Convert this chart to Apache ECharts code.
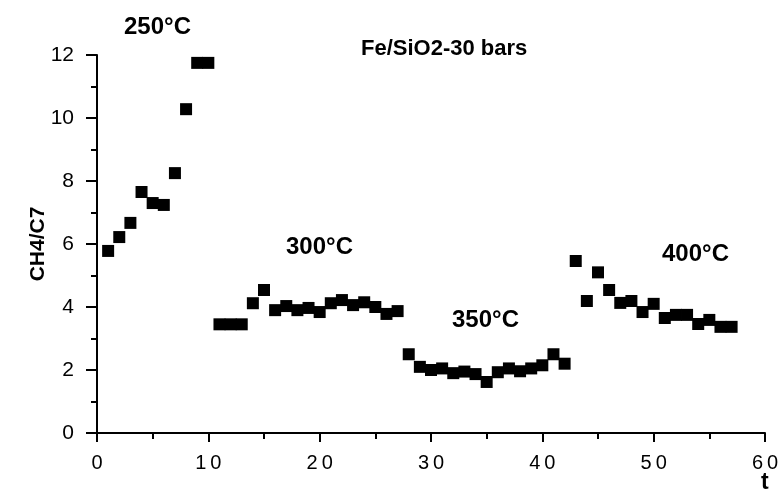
<!DOCTYPE html>
<html>
<head>
<meta charset="utf-8">
<script src="https://cdn.jsdelivr.net/npm/echarts@6/dist/echarts.min.js"></script>
<style>
    html, body { margin: 0; padding: 0; background: #fff; }
    #chart { width: 782px; height: 494px; }
</style>
</head>
<body>
<div id="chart"></div>
<script>
// ====================== data ======================
var timeValues = [1, 2, 3, 4, 5, 6, 7, 8, 9, 10,
    11, 12, 13, 14, 15, 16, 17, 18, 19, 20, 21, 22, 23, 24, 25, 26, 27,
    28, 29, 30, 31, 32, 33, 34, 35, 36, 37, 38, 39, 40, 41, 42,
    43, 44, 45, 46, 47, 48, 49, 50, 51, 52, 53, 54, 55, 56, 57];
var ratioValues = [5.78, 6.22, 6.67, 7.65, 7.3, 7.24, 8.25, 10.28, 11.75, 11.75,
    3.45, 3.45, 3.45, 4.12, 4.54, 3.9, 4.03, 3.9, 3.97, 3.84, 4.12, 4.22, 4.06, 4.15, 4.0, 3.78, 3.87,
    2.5, 2.1, 2.0, 2.05, 1.9, 1.95, 1.87, 1.62, 1.93, 2.05, 1.96, 2.05, 2.15, 2.5, 2.2,
    5.46, 4.19, 5.1, 4.54, 4.13, 4.19, 3.84, 4.1, 3.65, 3.75, 3.75, 3.46, 3.59, 3.37, 3.37];
var stageLabels = ['250°C', '300°C', '350°C', '400°C'];

var points = [];
for (var i = 0; i < timeValues.length; i++) {
    points.push([timeValues[i], ratioValues[i]]);
}

var chart = echarts.init(document.getElementById('chart'));

// 图上的文字(温度 / 标题)
function textAt(str, x, y, size) {
    return {
        type: 'text',
        left: x,
        top: y,
        style: {
            text: str,
            font: 'bold ' + size + 'px "Liberation Sans", Arial, sans-serif',
            fill: '#000'
        }
    };
}

var option = {
    backgroundColor: '#fff',
    animation: false,
    grid: {
        left: 97,
        right: 17,
        top: 55,
        bottom: 61
    },
    xAxis: {
        type: 'value',
        min: 0,
        max: 60,
        interval: 10,
        axisLine: { onZero: false, lineStyle: { color: '#000', width: 2 } },
        axisTick: { show: true, length: 9, lineStyle: { color: '#000', width: 2 } },
        minorTick: { show: true, splitNumber: 2, length: 6, lineStyle: { color: '#000', width: 2 } },
        splitLine: { show: false },
        axisLabel: {
            color: '#000',
            fontFamily: 'Liberation Sans, Arial, sans-serif',
            fontSize: 20,
            margin: 20,
            formatter: function (v) { return String(v).split('').join('\u2009'); }
        }
    },
    yAxis: {
        type: 'value',
        min: 0,
        max: 12,
        interval: 2,
        name: 'CH4/C7',
        nameLocation: 'middle',
        nameGap: 48,
        nameMoveOverlap: false,
        nameTextStyle: {
            color: '#000',
            fontFamily: 'Liberation Sans, Arial, sans-serif',
            fontSize: 21,
            fontWeight: 'bold'
        },
        axisLine: { show: true, lineStyle: { color: '#000', width: 2 } },
        axisTick: { show: true, length: 11, lineStyle: { color: '#000', width: 2 } },
        minorTick: { show: true, splitNumber: 2, length: 6, lineStyle: { color: '#000', width: 2 } },
        splitLine: { show: false },
        axisLabel: {
            color: '#000',
            fontFamily: 'Liberation Sans, Arial, sans-serif',
            fontSize: 21,
            margin: 23
        }
    },
    series: [{
        type: 'scatter',
        data: points,
        symbol: 'rect',
        symbolSize: 12,
        itemStyle: { color: '#000', opacity: 1 }
    }],
    graphic: [
        textAt(stageLabels[0], 124, 15, 24),
        textAt('Fe/SiO2-30 bars', 361, 38, 22),
        textAt(stageLabels[1], 286, 235, 24),
        textAt(stageLabels[2], 452, 308, 24),
        textAt(stageLabels[3], 662, 242, 24),
        textAt('t', 761, 471, 23)
    ]
};

chart.setOption(option);
</script>
</body>
</html>
